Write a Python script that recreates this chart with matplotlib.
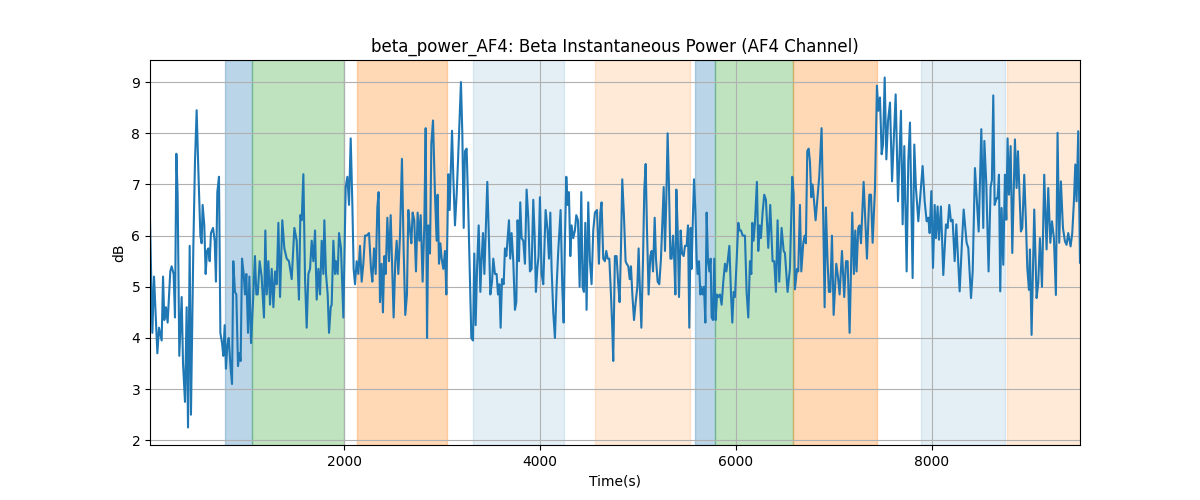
import matplotlib
matplotlib.use("Agg")
import matplotlib.pyplot as plt

# time axis (s) and beta power (dB)
time_s = [
    20, 44, 61, 95, 112, 139, 153, 166, 183, 200, 227, 241, 261, 275, 289,
    302, 319, 343, 357, 377, 394, 408, 425, 438, 462, 479, 496, 513, 534, 547,
    557, 574, 588, 602, 615, 629, 642, 663, 680, 693, 707, 724, 738, 755, 768,
    782, 795, 809, 823, 843, 857, 870, 887, 901, 918, 932, 945, 959, 976, 989,
    1003, 1020, 1034, 1051, 1071, 1091, 1105, 1119, 1139, 1159, 1183, 1197,
    1211, 1228, 1245, 1262, 1279, 1296, 1313, 1330, 1347, 1370, 1391, 1415, 1438,
    1466, 1493, 1517, 1540, 1554, 1568, 1585, 1602, 1619, 1636, 1653, 1670, 1687,
    1704, 1721, 1738, 1755, 1772, 1789, 1799, 1816, 1833, 1847, 1864, 1874, 1891,
    1908, 1918, 1935, 1949, 1969, 1993, 2017, 2034, 2051, 2068, 2085, 2098, 2112,
    2129, 2146, 2163, 2180, 2197, 2214, 2231, 2255, 2275, 2289, 2306, 2323, 2340,
    2353, 2367, 2384, 2397, 2411, 2425,
    2442, 2459, 2476, 2493, 2506, 2523, 2537, 2554, 2571, 2591, 2608, 2625, 2642,
    2656, 2673, 2687, 2700, 2717, 2734, 2751, 2768, 2782, 2802, 2819, 2833, 2847,
    2860, 2877, 2891, 2908, 2928, 2945, 2955, 2969, 2983, 2996, 3013, 3030, 3044,
    3064, 3078, 3088, 3102, 3115, 3132, 3149, 3163, 3180, 3193, 3207, 3221, 3234,
    3251, 3268, 3285, 3299, 3316, 3329, 3343, 3357, 3374, 3391, 3404, 3418, 3432,
    3449, 3462, 3479, 3493, 3510, 3523, 3540, 3557, 3571, 3585, 3598, 3612, 3629,
    3642, 3656, 3669, 3683, 3696, 3710, 3727, 3744, 3758, 3771, 3785, 3798, 3812,
    3829, 3846, 3863, 3880, 3897, 3914, 3931, 3945, 3958, 3972, 3985, 3999, 4016,
    4033, 4057, 4077, 4091, 4105, 4118, 4135, 4152, 4169, 4186, 4210, 4227, 4241,
    4254, 4268, 4281, 4295, 4309, 4322, 4339, 4356, 4370, 4387, 4404, 4421, 4434,
    4448, 4462, 4475, 4492, 4509, 4526, 4543, 4560, 4581, 4601, 4615, 4628, 4645,
    4662, 4676, 4690, 4707, 4724, 4737, 4747, 4764, 4781, 4798, 4812, 4826, 4839,
    4856, 4873,
    4884, 4901, 4915, 4928, 4942, 4959, 4976, 4993, 5006, 5020, 5034, 5051, 5064,
    5078, 5091, 5108, 5125, 5139, 5153, 5170, 5183, 5200, 5217, 5234, 5251, 5262,
    5275, 5289, 5302, 5316, 5330, 5343, 5357, 5370, 5381, 5391, 5404, 5418, 5435,
    5449, 5466, 5479, 5496, 5510, 5523, 5537, 5547, 5557, 5571, 5585, 5598, 5608,
    5622, 5636, 5646, 5659, 5673, 5687, 5700, 5714, 5727, 5741, 5751, 5765, 5778,
    5792, 5806, 5819, 5836, 5853, 5870, 5887, 5901, 5915, 5932, 5949, 5962, 5976,
    5989, 6006, 6023, 6037, 6051, 6068, 6081,
    6091, 6108, 6125, 6142, 6156, 6166, 6179, 6193, 6213, 6227, 6241, 6254, 6271,
    6288, 6305, 6329, 6349, 6373, 6390, 6407, 6424, 6441, 6465, 6486, 6499, 6526,
    6550, 6574, 6588, 6601, 6622, 6635, 6652, 6666, 6686, 6700, 6713, 6727, 6741,
    6754, 6768, 6781, 6795, 6812, 6829, 6849, 6873, 6890, 6904, 6917, 6934, 6948,
    6962, 6979, 6996, 7023, 7040, 7057, 7081, 7104, 7122, 7139, 7159, 7186, 7203,
    7217, 7230, 7247, 7261, 7275, 7302,
    7336, 7360, 7377, 7394, 7418, 7438, 7452, 7469, 7486, 7500, 7517, 7534, 7551,
    7571, 7592, 7612, 7629, 7653, 7670, 7683, 7700, 7717, 7741, 7758, 7775, 7802,
    7819, 7836, 7860, 7881, 7904, 7925, 7945, 7962, 7976, 7993, 8010, 8027, 8040,
    8057, 8071, 8091, 8115, 8142, 8159, 8176, 8193, 8210, 8231, 8248, 8282, 8306,
    8323, 8353, 8370, 8398, 8415, 8438, 8476, 8503, 8523, 8534, 8554,
    8577, 8598, 8611, 8625, 8639, 8659, 8669, 8683, 8696, 8710, 8727, 8744, 8758,
    8771, 8785, 8802, 8819, 8846, 8863, 8877, 8907, 8921, 8941, 8958, 8972, 8989,
    8999, 9016, 9043, 9067, 9084, 9101, 9122, 9145, 9169, 9186, 9207, 9224, 9244,
    9264, 9281, 9298, 9315, 9336, 9356, 9373, 9390, 9414, 9431, 9448, 9462, 9475,
    9492, 9510,
]

power_db = [
    6.3, 4.1, 5.2, 3.7, 4.2, 3.95, 5.2, 4.35, 4.6, 4.3, 5.3, 5.4, 5.25, 4.4, 7.6,
    6.8, 3.65, 4.8, 3.5, 2.75, 4.6, 2.25, 5.8, 2.5, 5.75, 7.45, 8.45, 7.3, 6.0, 5.85,
    6.6, 6.2, 5.25, 5.7, 5.75, 5.5, 6.05, 6.15, 5.9, 5.1, 6.85, 7.15, 4.1, 3.9, 3.65,
    4.25, 3.4, 3.85, 4.0, 3.4, 3.1, 5.5, 4.9, 4.85, 3.45, 3.7, 3.55, 5.55, 5.25, 4.85,
    5.25, 4.1, 5.2, 3.9, 4.7, 5.6, 4.85, 4.85, 5.5, 5.2, 4.4, 6.1,
    4.85, 5.5, 4.65, 5.35, 4.6, 5.3, 5.05, 6.25, 4.8, 6.3, 5.75, 5.55, 5.5,
    5.15, 6.15, 5.9, 4.75, 6.4, 6.3, 7.2, 5.15, 4.2, 5.25, 5.35, 5.9, 5.5,
    6.1, 4.75, 5.35, 4.85, 5.9, 5.25, 6.3, 5.25, 4.85, 4.1, 4.6, 4.65, 5.9,
    5.25, 5.5, 5.25, 6.05, 5.75, 4.4, 6.95, 7.15, 6.6, 7.9, 6.6, 5.35, 5.05,
    5.5, 5.25, 5.8, 5.1, 5.45, 6.0, 6.0, 6.05, 5.35, 5.1, 5.75, 5.25, 6.55,
    6.85, 4.7, 5.45, 4.5, 5.6, 5.25,
    6.35, 5.5, 6.4, 5.25, 4.4, 5.5, 5.9, 5.25, 6.0, 7.5, 5.75, 4.45, 4.85,
    6.5, 6.1, 5.85, 6.45, 6.3, 5.3, 6.45, 5.9, 6.4, 5.1, 6.2, 8.1, 4.0,
    6.2, 5.65, 7.8, 8.25, 6.8, 5.9, 6.8, 5.45, 5.85, 5.55, 5.35, 5.7, 4.85,
    7.2, 6.5, 7.2, 8.05, 7.15, 6.2, 6.8, 7.45, 8.3, 9.0, 8.0, 6.15, 7.65,
    7.7, 6.5, 5.1, 4.0, 3.95, 5.65, 4.25, 5.35, 6.2, 4.9, 5.55, 6.05, 5.25,
    6.3, 7.05, 5.9, 4.85, 5.1, 5.55, 5.25, 5.25, 4.85, 5.05, 4.2, 5.15, 5.05,
    5.75, 5.6, 5.95, 6.3, 5.55, 6.05, 5.5, 4.55, 4.7, 6.3, 5.5, 6.65, 5.95,
    5.9, 5.45, 6.9, 6.35, 5.3, 5.35, 6.7, 6.0, 4.9, 5.35, 5.6, 6.75, 5.25,
    5.05, 6.5, 6.1, 5.55, 6.45, 5.35, 4.5, 4.0, 5.0, 5.7, 6.5, 5.0, 4.3,
    5.9, 7.15, 6.6, 6.85, 5.6, 6.2, 5.95, 6.1, 6.4, 6.3, 5.0, 6.85, 5.0,
    4.9, 6.25, 4.55, 6.65, 5.5, 5.05, 6.1, 6.45, 6.5, 5.45, 6.45, 6.65, 5.55,
    5.5, 5.7, 5.55, 5.55, 4.85, 4.2, 3.55, 5.6, 5.6, 5.05, 4.7, 5.75, 7.1,
    6.4, 5.5,
    5.45, 5.4, 5.15, 5.4, 4.85, 4.35, 4.7, 5.0, 5.75, 4.9, 4.2, 5.55, 6.9,
    7.4, 6.15, 4.85, 5.6, 5.7, 5.3, 6.35, 5.55, 5.1, 5.05, 5.55, 6.4, 6.95,
    5.7, 6.75, 8.0, 6.95, 5.55, 5.55, 6.0, 5.5, 4.85, 6.9, 6.15, 4.8, 6.1,
    5.65, 5.6, 5.8, 5.8, 6.2, 4.2, 6.15, 5.35, 6.15, 7.1, 6.5, 5.55, 5.25,
    5.5, 4.85, 5.0, 4.85, 5.0, 4.3, 6.45, 5.5, 5.3, 5.55, 4.4, 4.35, 5.55,
    4.35, 4.85, 4.8, 4.85, 4.65, 5.1, 5.45, 5.3, 5.5, 5.8, 4.85, 4.3, 4.9,
    4.8, 5.5, 6.25, 6.1, 6.1, 6.0, 6.0,
    6.0, 4.9, 4.4, 5.5, 5.25, 6.25, 5.9, 6.25, 7.05, 5.7, 6.2, 5.95, 6.45,
    6.8, 6.7, 5.76, 6.6, 5.5, 5.5, 4.9, 6.3, 5.1, 6.15, 5.7, 5.66, 4.9,
    5.35, 7.15, 6.8, 4.95, 5.35, 5.3, 6.6, 5.3, 5.85, 6.0, 5.85, 7.65, 7.7,
    7.45, 6.75, 7.0, 6.7, 6.3, 6.7, 7.15, 8.1, 6.35, 4.6, 6.55, 5.5, 4.9,
    4.9, 6.0, 4.45, 5.45, 5.2, 4.85, 5.7, 4.8, 5.5, 5.5, 4.1, 6.45, 5.25,
    6.1, 5.3, 6.15, 6.2, 5.85, 7.05,
    5.55, 6.8, 6.8, 5.86, 6.93, 8.93, 8.44, 8.7, 7.59, 7.78, 9.09, 7.49, 8.24,
    8.6, 7.06, 7.98, 8.76, 6.67, 7.65, 8.44, 6.22, 7.75, 5.3, 7.46, 8.21, 5.17,
    7.78, 6.93, 6.28, 6.8, 7.36, 6.67, 6.28, 6.35, 6.05, 6.87, 5.37, 6.6, 5.95,
    6.57, 5.92, 6.57, 5.23, 6.22, 6.15, 6.6, 6.28, 6.31, 5.5, 6.22, 4.91, 5.89,
    6.51, 5.86, 5.76, 4.78, 5.3, 7.32, 6.08, 8.08, 6.15, 7.85, 7.0,
    5.3, 6.95, 7.08, 8.74, 6.6, 6.73, 6.73, 7.19, 4.91, 6.54, 5.43, 7.19, 6.31,
    7.9, 6.8, 7.75, 5.66, 7.88, 6.93, 7.65, 6.08, 6.15, 7.19, 6.28, 5.37, 4.94,
    5.73, 4.06, 6.51, 4.78, 5.07, 5.95, 5.0, 7.19, 5.73, 6.93, 5.86, 6.28, 5.95,
    4.84, 8.01, 5.86, 7.06, 6.15, 5.89, 5.82, 6.05, 5.79, 6.05, 6.67, 7.39, 6.67,
    8.04, 5.47,
]

# shaded task segments
seg_start = [785, 1058, 2135, 3319, 4561, 5582, 5789, 6584, 7887, 8768]
seg_end = [1058, 2003, 3054, 4248, 5531, 5789, 6584, 7435, 8744, 9510]
seg_color = ['tab:blue', 'tab:green', 'tab:orange', 'tab:blue', 'tab:orange',
             'tab:blue', 'tab:green', 'tab:orange', 'tab:blue', 'tab:orange']
seg_alpha = [0.3, 0.3, 0.3, 0.12, 0.16, 0.3, 0.3, 0.3, 0.12, 0.16]

fig, ax = plt.subplots(figsize=(12, 5), dpi=100)

for s, e, c, a in zip(seg_start, seg_end, seg_color, seg_alpha):
    ax.axvspan(s, e, color=c, alpha=a, lw=1)

ax.plot(time_s, power_db, color='tab:blue', lw=1.5)
ax.set_xlim(time_s[0], time_s[-1])
ax.set_title('beta_power_AF4: Beta Instantaneous Power (AF4 Channel)')
ax.set_xlabel('Time(s)')
ax.set_ylabel('dB')
ax.grid(True)

fig.savefig('out.png')
